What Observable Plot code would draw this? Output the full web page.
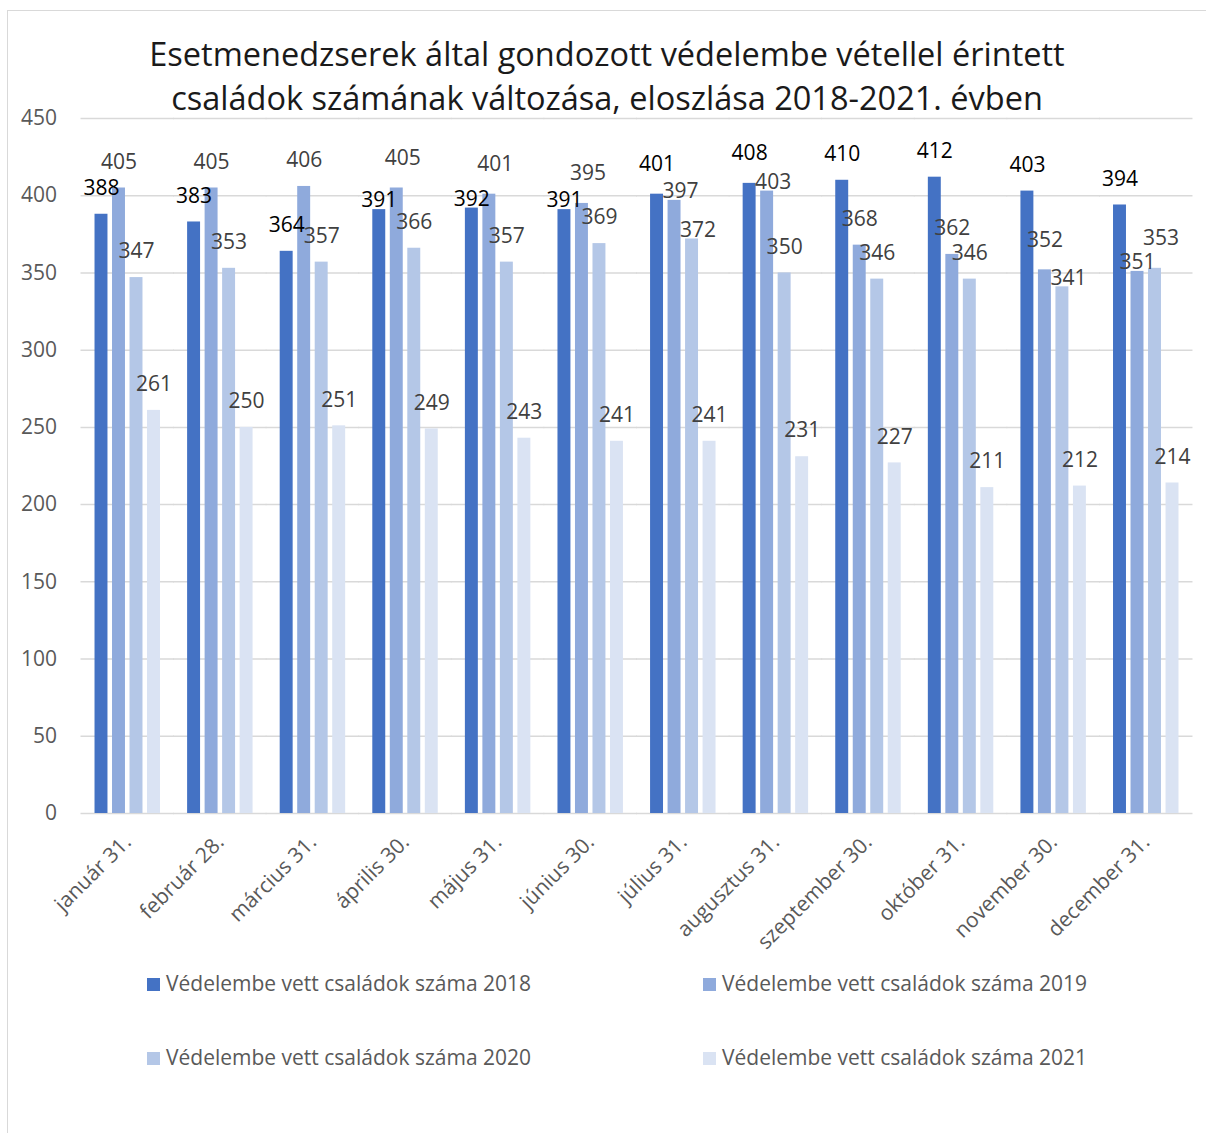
<!DOCTYPE html>
<html>
<head>
<meta charset="utf-8">
<script src="https://cdn.jsdelivr.net/npm/d3@7"></script>
<script src="https://cdn.jsdelivr.net/npm/@observablehq/plot@0.6"></script>
<style>
  html, body { margin: 0; padding: 0; background: #fff; }
  body { width: 1206px; height: 1133px; position: relative; overflow: hidden; font-family: "Open Sans", sans-serif; }
  #frame { position: absolute; left: 7px; top: 10px; width: 1230px; height: 1160px; border: 1.5px solid #d9d9d9; box-sizing: border-box; }
  #title { position: absolute; left: 0; width: 1214px; top: 32px; text-align: center; font-size: 32.5px; line-height: 44px; color: #1a1a1a; }
  #chart { position: absolute; left: 0; top: 0; }
  .leg { position: absolute; font-size: 21px; color: #595959; white-space: nowrap; line-height: 24px; }
  .leg span.sw { display: inline-block; width: 13px; height: 13px; margin-right: 6px; vertical-align: 0px; }
</style>
</head>
<body>
<div id="frame"></div>
<div id="chart"></div>
<div id="title">Esetmenedzserek által gondozott védelembe vétellel érintett<br>családok számának változása, eloszlása 2018-2021. évben</div>
<div id="legend"></div>
<script>
const months = ["január 31.", "február 28.", "március 31.", "április 30.", "május 31.", "június 30.", "július 31.", "augusztus 31.", "szeptember 30.", "október 31.", "november 30.", "december 31."];
const series = ["Védelembe vett családok száma 2018", "Védelembe vett családok száma 2019", "Védelembe vett családok száma 2020", "Védelembe vett családok száma 2021"];
const values2018 = [388, 383, 364, 391, 392, 391, 401, 408, 410, 412, 403, 394];
const values2019 = [405, 405, 406, 405, 401, 395, 397, 403, 368, 362, 352, 351];
const values2020 = [347, 353, 357, 366, 357, 369, 372, 350, 346, 346, 341, 353];
const values2021 = [261, 250, 251, 249, 243, 241, 241, 231, 227, 211, 212, 214];
const colors = ["#4472C4", "#8FAADC", "#B4C7E7", "#DAE3F3"];
const labelColors = ["#000000", "#404040", "#404040", "#404040"];
const yTicks = [0, 50, 100, 150, 200, 250, 300, 350, 400, 450];

const allValues = [values2018, values2019, values2020, values2021];
const data = months.flatMap((m, i) => series.map((s, j) => ({month: m, series: s, si: j, value: allValues[j][i], lift: "normal", nudge: 0})));

const lifts = {normal: -26, high: -30, low: -9};
// approximate pixel position of a label centre, used only to decide which labels collide
const yPix = d3.scaleLinear([0, 450], [813, 118]);
const labelY = d => yPix(d.value) + lifts[d.lift];

// Collision rules for neighbouring labels within a month.
months.forEach((m, i) => {
  for (let j = 0; j < series.length - 1; j++) {
    const a = data[i * 4 + j], b = data[i * 4 + j + 1];
    if (Math.abs(a.value - b.value) < 15) {
      if (a.value < b.value) { a.lift = "low"; b.lift = "high"; }
      else { a.lift = "high"; b.lift = "low"; }
      b.nudge = 1;
    }
  }
  for (let j = 0; j < series.length - 1; j++) {
    const a = data[i * 4 + j], b = data[i * 4 + j + 1];
    if (Math.abs(labelY(a) - labelY(b)) < 24) {
      const lower = labelY(a) > labelY(b) ? a : b;
      lower.lift = "low";
      if (lower === b) b.nudge = 1;
    }
  }
});

const labelMarks = [];
for (const [lift, dy] of Object.entries(lifts)) {
  for (const nudge of [0, 1]) {
    for (let j = 0; j < series.length; j++) {
      labelMarks.push(Plot.text(data, {
        filter: d => d.lift === lift && d.nudge === nudge && d.si === j,
        fx: "month", x: "series", y: "value", text: d => String(d.value),
        lineAnchor: "middle", dy, dx: nudge ? 6 : 0, fill: labelColors[j], fontSize: 21
      }));
    }
  }
}

const chart = Plot.plot({
  width: 1206,
  height: 960,
  marginLeft: 81,
  marginRight: 14,
  marginTop: 118,
  marginBottom: 147,
  style: {fontFamily: "'Open Sans', sans-serif", background: "transparent", overflow: "visible"},
  fx: {domain: months, paddingInner: 0.293, paddingOuter: 0.146, round: false, label: null},
  x: {domain: series, paddingInner: 0.26, paddingOuter: 0, round: false, axis: null},
  y: {domain: [0, 450], label: null},
  color: {domain: series, range: colors},
  marks: [
    Plot.ruleY(yTicks, {y: d => d, insetLeft: -14, insetRight: -14, stroke: "#d9d9d9", strokeWidth: 1.5}),
    Plot.barY(data, {fx: "month", x: "series", y: "value", fill: "series"}),
    ...labelMarks,
    Plot.axisY({ticks: yTicks, tickSize: 0, tickPadding: 38, fontSize: 21, fill: "#595959", label: null}),
    Plot.axisFx({anchor: "bottom", tickRotate: -45, tickSize: 0, tickPadding: 25, fontSize: 21, fill: "#595959", label: null})
  ]
});
document.getElementById("chart").appendChild(chart);

const legendPos = [[147, 971], [703, 971], [147, 1045], [703, 1045]];
const legend = document.getElementById("legend");
series.forEach((s, i) => {
  const d = document.createElement("div");
  d.className = "leg";
  d.style.left = legendPos[i][0] + "px";
  d.style.top = legendPos[i][1] + "px";
  d.innerHTML = `<span class="sw" style="background:${colors[i]}"></span>${s}`;
  legend.appendChild(d);
});
</script>
</body>
</html>
